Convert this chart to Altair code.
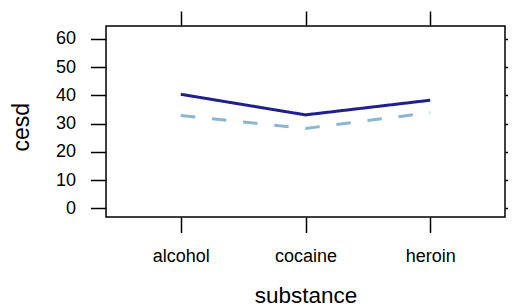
import altair as alt
import pandas as pd

substances = ["alcohol", "cocaine", "heroin"]
groups = ["female", "male"]
cesd_female = [40.4, 33.1, 38.3]
cesd_male = [32.9, 28.3, 33.9]
y_ticks = [0, 10, 20, 30, 40, 50, 60]

rows = []
for s, v in zip(substances, cesd_female):
    rows.append({"substance": s, "group": groups[0], "cesd": v})
for s, v in zip(substances, cesd_male):
    rows.append({"substance": s, "group": groups[1], "cesd": v})
df = pd.DataFrame(rows)

FONT = "Liberation Sans"

xscale = alt.Scale(type="point", domain=substances, padding=0.6)
yscale = alt.Scale(domain=[-3.09, 64.6], nice=False, zero=False)
color = alt.Color("group:N", scale=alt.Scale(domain=groups, range=["#1f1f8f", "#8ab6d2"]), legend=None)
dash = alt.StrokeDash("group:N", scale=alt.Scale(domain=groups, range=[[1, 0], [14.5, 16.8]]), legend=None)

base = alt.Chart(df)

lines = base.mark_line(strokeWidth=3).encode(
    x=alt.X("substance:N", scale=xscale, sort=substances,
            axis=alt.Axis(orient="bottom", title="substance", labelAngle=0, tickSize=15.5,
                          labelPadding=15, titleY=85, titleBaseline="alphabetic",
                          titleFontSize=22.5, titleFontWeight="normal")),
    y=alt.Y("cesd:Q", scale=yscale,
            axis=alt.Axis(orient="left", title="cesd", values=y_ticks, tickSize=15.5,
                          labelPadding=15, titleX=-77.4, titleY=100.7, titleAngle=270,
                          titleAlign="center", titleBaseline="alphabetic",
                          titleFontSize=23, titleFontWeight="normal")),
    color=color,
    strokeDash=dash,
    detail="group:N",
)

ghost = base.mark_line(strokeOpacity=0).encode(
    x=alt.X("substance:N", scale=xscale, sort=substances,
            axis=alt.Axis(orient="top", title=None, labels=False, tickSize=15)),
    y=alt.Y("cesd:Q", scale=yscale,
            axis=alt.Axis(orient="right", title=None, labels=False, values=y_ticks, tickSize=15)),
    detail="group:N",
)

chart = alt.layer(lines, ghost).resolve_axis(x="independent", y="independent").properties(
    width=399,
    height=191,
    autosize=alt.AutoSizeParams(type="none"),
    padding={"left": 98, "top": 18, "right": 3, "bottom": 90},
).configure_view(
    stroke="black", strokeWidth=1.5
).configure_axis(
    domain=False, grid=False, tickColor="black", tickWidth=1.5,
    labelFont=FONT, labelFontSize=18, labelColor="black",
    titleFont=FONT, titleColor="black",
)

chart.save("out.html", embed_options={"renderer": "svg", "actions": False})
